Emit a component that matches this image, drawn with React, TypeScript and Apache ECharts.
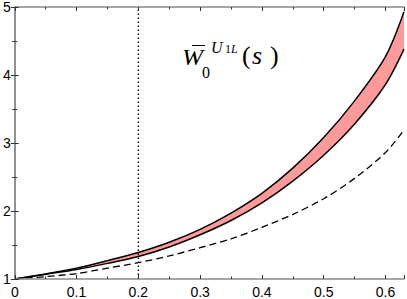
import React, { useEffect, useRef } from "react";
import * as echarts from "echarts";

const sValues = [0, 0.05, 0.1, 0.15, 0.2, 0.25, 0.3, 0.35, 0.4, 0.45, 0.5, 0.55, 0.6, 0.63];
const upperBound = [1, 1.075, 1.16, 1.27, 1.39, 1.54, 1.73, 1.97, 2.26, 2.63, 3.08, 3.62, 4.27, 4.93];
const lowerBound = [1, 1.07, 1.14, 1.23, 1.33, 1.47, 1.65, 1.86, 2.12, 2.44, 2.82, 3.28, 3.86, 4.38];
const dashedCurve = [1, 1.035, 1.08, 1.16, 1.24, 1.34, 1.46, 1.59, 1.76, 1.95, 2.18, 2.48, 2.86, 3.19];
const markerS = 0.2;
const xTickLabels = ["0", "0.1", "0.2", "0.3", "0.4", "0.5", "0.6"];
const yTickLabels = ["1", "2", "3", "4", "5"];

const pairs = (ys: number[]) => sValues.map((s, i) => [s, ys[i]]);

export default function App() {
  const ref = useRef<HTMLDivElement>(null);
  useEffect(() => {
    const chart = echarts.init(ref.current!, null, { renderer: "svg" });
    const axisLine = { show: true, lineStyle: { color: "#8a8a8a", width: 1.5 } };
    const axisTick = { show: true, inside: true, length: 4, lineStyle: { color: "#333", width: 1 } };
    const minorTick = { show: true, splitNumber: 2, length: 2.5, lineStyle: { color: "#333", width: 1 } };
    const labelFont = { fontFamily: "Liberation Sans", fontSize: 14, color: "#000" };
    const serif = "Liberation Serif";
    const txt = (text: string, x: number, y: number, size: number, italic: boolean, scaleX = 1) => ({
      type: "text",
      x,
      y,
      scaleX,
      style: {
        text,
        fontFamily: serif,
        fontSize: size,
        fontStyle: italic ? "italic" : "normal",
        fill: "#000",
      },
    });
    const smoothLine = { type: "line", smooth: 0.3, symbol: "none" };
    chart.setOption({
      animation: false,
      grid: { left: 13, right: 2, top: 6, bottom: 19, containLabel: false },
      xAxis: [
        {
          type: "value", min: 0, max: 0.63, interval: 0.1, position: "bottom", z: 10,
          axisLine, axisTick, minorTick, splitLine: { show: false },
          axisLabel: {
            ...labelFont, margin: 6,
            formatter: (v: number) => {
              const i = Math.round(v * 10);
              return Math.abs(v * 10 - i) < 1e-6 && i < xTickLabels.length ? xTickLabels[i] : "";
            },
          },
        },
        {
          type: "value", min: 0, max: 0.63, interval: 0.1, position: "top", z: 10,
          axisLine, axisTick, minorTick, splitLine: { show: false }, axisLabel: { show: false },
        },
      ],
      yAxis: [
        {
          type: "value", min: 1, max: 5, interval: 1, position: "left", z: 10,
          axisLine, axisTick, minorTick, splitLine: { show: false },
          axisLabel: {
            ...labelFont, margin: 4,
            formatter: (v: number) => yTickLabels[Math.round(v) - 1] ?? "",
          },
        },
        {
          type: "value", min: 1, max: 5, interval: 1, position: "right", z: 10,
          axisLine, axisTick, minorTick, splitLine: { show: false }, axisLabel: { show: false },
        },
      ],
      series: [
        {
          ...smoothLine, data: pairs(upperBound),
          lineStyle: { width: 0, opacity: 0 },
          areaStyle: { color: "#ff9a9a", opacity: 1, origin: "start" },
          silent: true,
        },
        {
          ...smoothLine, data: pairs(lowerBound),
          lineStyle: { width: 0, opacity: 0 },
          areaStyle: { color: "#ffffff", opacity: 1, origin: "start" },
          silent: true,
        },
        {
          ...smoothLine, data: pairs(dashedCurve),
          lineStyle: { color: "#000", width: 1.3, type: [7, 4] },
        },
        {
          type: "line", data: [[markerS, 1], [markerS, 5]], symbol: "none",
          lineStyle: { color: "#000", width: 1.4, type: [1.4, 2.6] },
        },
        {
          ...smoothLine, data: pairs(upperBound),
          lineStyle: { color: "#000", width: 1.5 },
        },
        {
          ...smoothLine, data: pairs(lowerBound),
          lineStyle: { color: "#000", width: 1.5 },
        },
      ],
      graphic: [
        txt("W", 182, 45, 23, true, 1.1),
        { type: "line", shape: { x1: 192, y1: 45.5, x2: 205, y2: 45.5 }, style: { stroke: "#000", lineWidth: 1 } },
        txt("0", 202, 64, 16, false),
        txt("U", 211, 39, 16, true),
        txt("1", 225, 43, 12, false),
        txt("L", 231, 43, 12, true),
        txt("(", 242, 42, 26, false),
        txt("s", 252, 42, 26, true),
        txt(")", 270, 42, 26, false),
      ],
    });
    return () => chart.dispose();
  }, []);
  return (
    <div
      ref={ref}
      style={{ position: "fixed", left: 0, top: 0, width: 407, height: 299, background: "#fff" }}
    />
  );
}
